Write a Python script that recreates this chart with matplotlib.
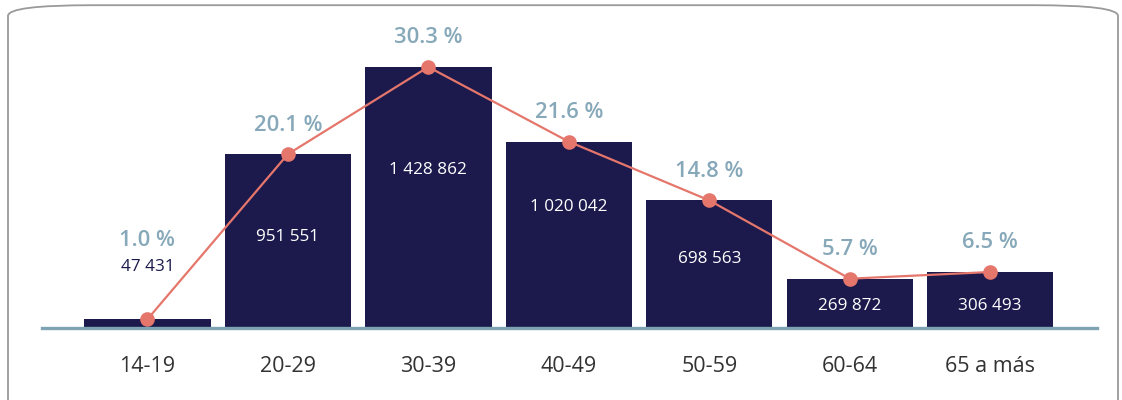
import matplotlib
matplotlib.use("Agg")
import matplotlib.pyplot as plt
from matplotlib.patches import FancyBboxPatch

plt.rcParams['font.family'] = ['Open Sans', 'DejaVu Sans']

# data
groups = ["14-19", "20-29", "30-39", "40-49", "50-59", "60-64", "65 a más"]
workers = [47431, 951551, 1428862, 1020042, 698563, 269872, 306493]
shares = [1.0, 20.1, 30.3, 21.6, 14.8, 5.7, 6.5]

# where the count label sits inside each bar (fraction of bar height)
label_frac = [None, 0.525, 0.605, 0.652, 0.543, 0.44, 0.39]

navy = "#1c1a4d"
salmon = "#e5766b"
pct_col = "#86a8b9"
base_col = "#7ea3b2"

def fmt(n):
    return f"{n:,}".replace(",", " ")

fig = plt.figure(figsize=(11.22, 4.0), dpi=100)

# rounded frame around the chart
frame = FancyBboxPatch((8 / 1122, -0.2), 1110 / 1122, 1.187,
                       boxstyle="round,pad=0,rounding_size=0.075",
                       transform=fig.transFigure, fill=False,
                       edgecolor="#9a9a9a", linewidth=1.3,
                       mutation_aspect=400 / 1122)
fig.patches.append(frame)

ax = fig.add_axes([42 / 1122, 72 / 400, 1055 / 1122, 308 / 400])
x = list(range(len(groups)))
ax.bar(x, workers, width=0.9, color=navy, zorder=2)
ax.plot(x, workers, color=salmon, linewidth=1.6, marker="o",
        markersize=9.5, zorder=3)

ax.set_xlim(-0.75, 6.76)
ax.set_ylim(0, 1686000)
ax.axhline(0, color=base_col, linewidth=2.4, zorder=4, clip_on=False)

for i, (v, p) in enumerate(zip(workers, shares)):
    if label_frac[i] is None:
        ax.annotate(fmt(v), (i, v), xytext=(0, 38), textcoords="offset points",
                    ha="center", va="center", fontsize=12.3, color=navy)
        ax.annotate(f"{p:.1f} %", (i, v), xytext=(0, 57), textcoords="offset points",
                    ha="center", va="center", fontsize=15.8, fontweight="semibold",
                    color=pct_col)
    else:
        ax.text(i, v * label_frac[i], fmt(v), ha="center", va="center",
                fontsize=12.3, color="white", zorder=5)
        ax.annotate(f"{p:.1f} %", (i, v), xytext=(0, 21), textcoords="offset points",
                    ha="center", va="center", fontsize=15.8, fontweight="semibold",
                    color=pct_col)

ax.set_xticks(x)
ax.set_xticklabels(groups, fontsize=15.5, color="#333333")
ax.tick_params(axis="x", length=0, pad=20)
ax.set_yticks([])
for s in ax.spines.values():
    s.set_visible(False)
ax.patch.set_alpha(0)

fig.savefig("out.png", dpi=100)
